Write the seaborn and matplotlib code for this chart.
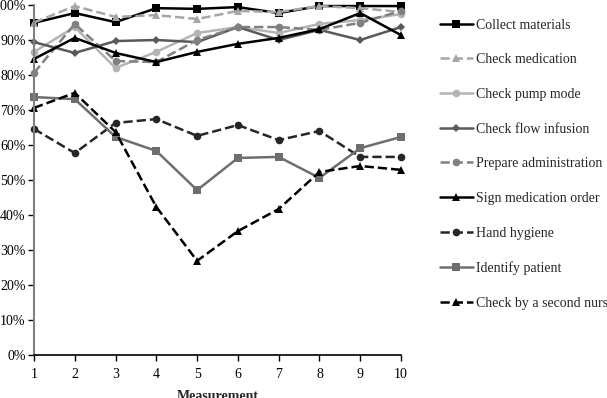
import matplotlib
matplotlib.use("Agg")
import matplotlib.pyplot as plt
import seaborn as sns
import numpy as np
import pandas as pd
from matplotlib.ticker import PercentFormatter

measurements = [1, 2, 3, 4, 5, 6, 7, 8, 9, 10]

collect_materials = [94.9, 97.7, 95.1, 99.1, 98.9, 99.4, 97.7, 99.7, 99.7, 99.7]
check_medication = [95.0, 99.7, 96.6, 97.1, 96.0, 98.3, 98.0, 99.7, 99.1, 98.0]
check_pump_mode = [86.6, 93.7, 82.0, 86.6, 92.0, 93.7, 92.0, 94.6, 95.7, 97.4]
check_flow_infusion = [89.4, 86.3, 89.7, 90.0, 89.4, 93.7, 90.0, 92.9, 90.0, 93.7]
prepare_administration = [80.6, 94.6, 84.0, 83.7, 90.0, 93.7, 93.7, 92.9, 94.9, 98.3]
sign_medication_order = [84.6, 90.6, 86.3, 83.7, 86.6, 88.9, 90.6, 93.1, 97.7, 91.4]
hand_hygiene = [64.6, 57.7, 66.3, 67.4, 62.6, 65.7, 61.4, 64.0, 56.6, 56.6]
identify_patient = [73.7, 73.1, 62.3, 58.3, 47.1, 56.3, 56.6, 50.6, 59.1, 62.3]
check_second_nurse = [70.6, 74.9, 63.7, 42.3, 26.9, 35.4, 41.7, 52.3, 54.0, 52.9]

series = [
    ("Collect materials", collect_materials, "#000000", "-", "s"),
    ("Check medication", check_medication, "#a6a6a6", "--", "^"),
    ("Check pump mode", check_pump_mode, "#b4b4b4", "-", "o"),
    ("Check flow infusion", check_flow_infusion, "#595959", "-", "D"),
    ("Prepare administration", prepare_administration, "#808080", "--", "o"),
    ("Sign medication order", sign_medication_order, "#000000", "-", "^"),
    ("Hand hygiene", hand_hygiene, "#262626", "--", "o"),
    ("Identify patient", identify_patient, "#6e6e6e", "-", "s"),
    ("Check by a second nurse", check_second_nurse, "#000000", "--", "^"),
]

sns.set_style("white")
plt.rcParams["font.family"] = ["Liberation Serif", "DejaVu Serif"]

fig = plt.figure(figsize=(6.07, 3.98), dpi=100)
ax = fig.add_axes([34 / 607, 1 - 355 / 398, (401 - 34) / 607, 350 / 398])

for name, vals, col, ls, mk in series:
    df = pd.DataFrame({"Measurement": measurements, "value": np.array(vals) / 100})
    ms = 4 if mk == "D" else 5.5
    sns.lineplot(data=df, x="Measurement", y="value", ax=ax, color=col,
                 linestyle=ls, marker=mk, markersize=ms, markeredgewidth=0,
                 linewidth=1.8, label=name, clip_on=False)

ax.set_xlim(1, 10)
ax.set_ylim(0, 1)
ax.set_xticks(measurements)
ax.set_yticks(np.arange(0, 1.01, 0.1))
ax.yaxis.set_major_formatter(PercentFormatter(1.0, decimals=0))
ax.tick_params(axis="both", labelsize=10, length=4, width=1, direction="out",
               left=True, bottom=True, colors="#000000")
ax.tick_params(axis="y", pad=2)
ax.tick_params(axis="x", pad=5)
for s in ["top", "right"]:
    ax.spines[s].set_visible(False)
ax.spines["left"].set_color("#808080")
ax.spines["left"].set_linewidth(1.5)
ax.spines["bottom"].set_color("#000000")
ax.spines["bottom"].set_linewidth(1.2)
ax.set_xlabel("Measurement", fontsize=10, fontweight="bold", labelpad=7)
ax.set_ylabel("")

handles, labels = ax.get_legend_handles_labels()
ax.legend(handles, labels, loc="upper left", bbox_to_anchor=(434 / 607, 1 - 13 / 398),
          bbox_transform=fig.transFigure, frameon=False, fontsize=10,
          handlelength=2.4, handletextpad=0.25, labelspacing=1.56, borderaxespad=0)

fig.savefig("out.png", dpi=100)
